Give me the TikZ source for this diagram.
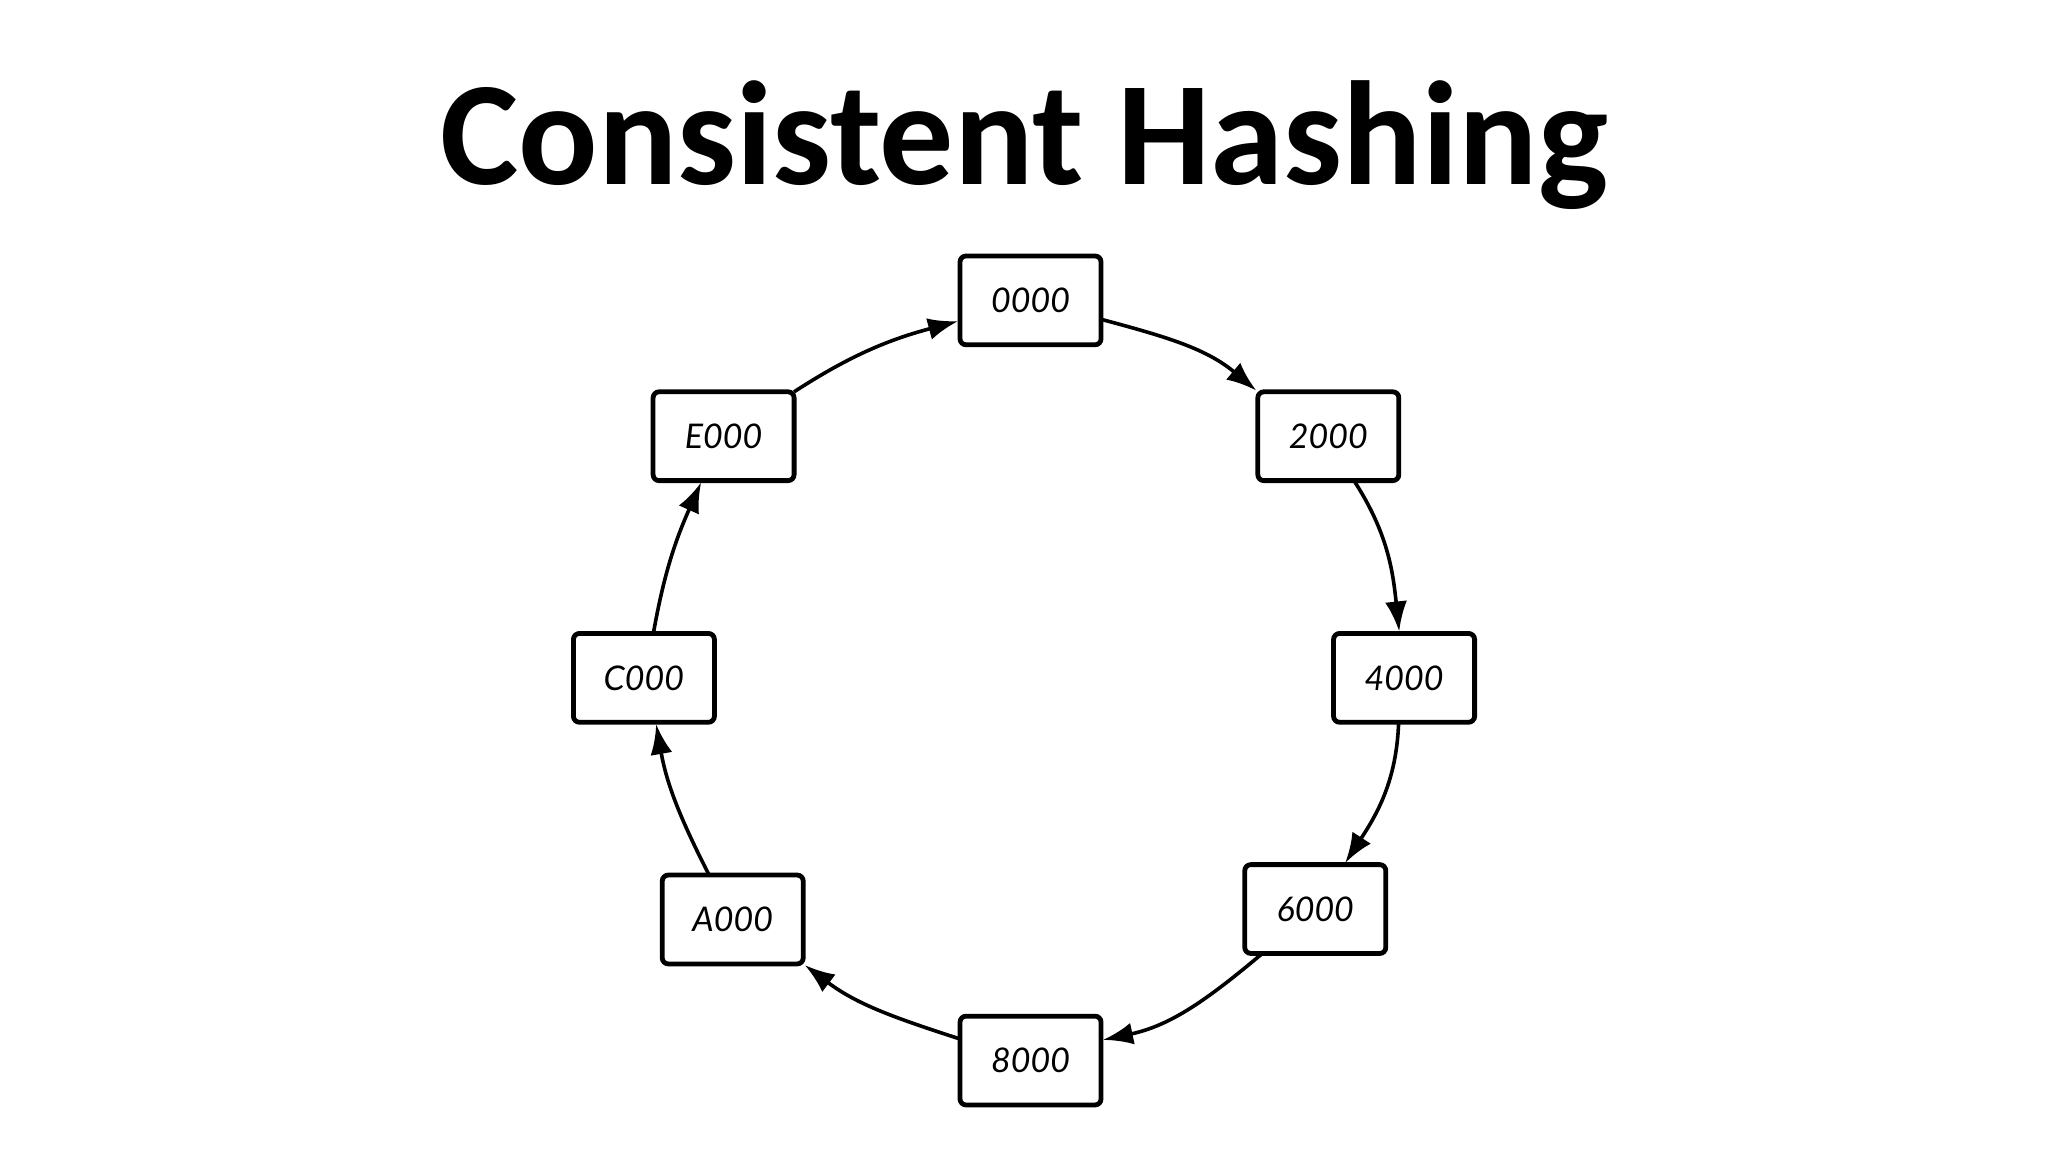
\documentclass[tikz,border=0pt]{standalone}
\usepackage{fontspec}
\setmainfont{Carlito}
\newfontfamily\hand{Lato}
\usetikzlibrary{arrows.meta}
\tikzset{
  keybox/.style={draw=black, line width=2.4pt, rounded corners=3pt, fill=white,
    minimum width=70.5pt, minimum height=44.4pt, inner sep=0pt, outer sep=0pt,
    font=\hand\itshape\fontsize{17}{17}\selectfont},
  ring/.style={draw=black, line width=1.8pt, -{Latex[length=15pt,width=11pt]}, shorten >=1pt},
}
\begin{document}
\begin{tikzpicture}[x=0.653pt,y=0.653pt]
\useasboundingbox (0,0) rectangle (1568,882);
\fill[white] (0,0) rectangle (1568,882);
\node[font=\bfseries\fontsize{74}{74}\selectfont, anchor=base] (title) at (784,741) {Consistent Hashing};
\node[keybox] (z) at (789,652) {0000};
\node[keybox] (t) at (1017,548) {2000};
\node[keybox] (f) at (1075,363) {4000};
\node[keybox] (s) at (1007,186) {6000};
\node[keybox] (ei) at (789,70) {8000};
\node[keybox] (a) at (561,178) {A000};
\node[keybox] (c) at (493,363) {C000};
\node[keybox] (e) at (554,548) {E000};
\draw[ring] (e.north east) to[out=33,in=195] (z.196);
\draw[ring] (z.345) to[out=-15,in=140] (t.north west);
\draw[ring] (t.300) to[out=-57,in=96] (f.96);
\draw[ring] (f.263) to[out=-92,in=57] (s.57);
\draw[ring] (s.220) to[out=220,in=12] (ei.16);
\draw[ring] (ei.163) to[out=162,in=-37] (a.south east);
\draw[ring] (a.118) to[out=117,in=-80] (c.285);
\draw[ring] (c.78) to[out=80,in=-114] (e.244);
\end{tikzpicture}
\end{document}
